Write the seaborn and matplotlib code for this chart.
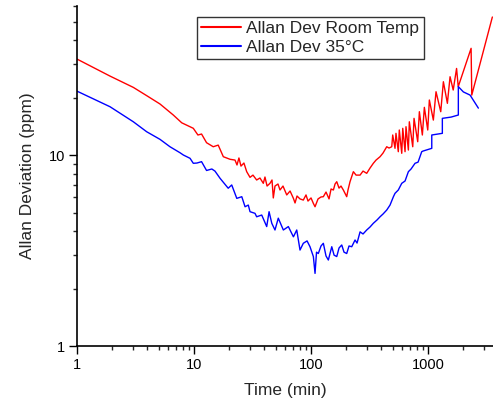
import numpy as np
import pandas as pd
import matplotlib
matplotlib.use("Agg")
import matplotlib.pyplot as plt
from matplotlib.ticker import LogLocator, NullFormatter, FuncFormatter
import seaborn as sns

# ---- data ----
room_label = "Allan Dev Room Temp"
warm_label = "Allan Dev 35°C"

room_t = [1, 1.915, 3.03, 3.97, 5.12, 6.65, 7.85, 9.86, 10.8, 11.6, 12.8, 14.6, 16.1,
          17.8, 20.3, 22.4, 23.3, 24.2, 25.2, 26.7, 28.2, 30.1, 31.9, 34.3, 36.6, 39.1, 40.4,
          42.1, 44.6, 46.4, 47.6, 49.2, 52.2, 54.3, 57.6, 62.0, 66.2, 70.7, 73.0, 75.9, 80.5,
          85.9, 90.6, 94.2, 100, 104.7, 108.2, 114.8, 121.7, 127.4, 134.3, 142.5, 148.3, 155.3,
          160.4, 165.9, 173.5, 180.4, 188.8, 201.8, 207.0, 215.4, 230.0, 242.6, 262.5, 278.2,
          299.2, 319.4, 340.7, 359.5, 389.0, 412.3, 443.4, 464.2,
          489.6, 499, 522, 532, 557, 568, 596, 608, 636, 648, 679, 692, 740, 759, 816, 843,
          894, 930, 994, 1026, 1110, 1170, 1284, 1352, 1463, 1542, 1641, 1753, 1811, 2333,
          2364, 3545]
room_dev = [31.8, 25.9, 22.6, 20.4, 18.5, 16.2, 14.75, 13.8, 12.73, 12.88, 11.6, 11.05,
            11.27, 9.8, 9.5, 9.41, 8.87, 9.65, 8.75, 9.08, 8.18, 7.64, 7.85, 7.40, 7.58, 7.11,
            7.67, 6.88, 7.11, 7.40, 5.96, 6.88, 7.05, 6.56, 6.88, 6.18, 6.48, 5.93, 5.61, 6.10,
            5.89, 5.81, 6.18, 5.74, 5.96, 5.58, 5.36, 5.89, 6.03, 6.05, 6.40, 5.89, 6.64, 6.56,
            7.05, 7.25, 6.71, 6.88, 6.56, 6.05, 6.56, 7.25, 8.18, 7.85, 7.85, 8.24, 8.02, 8.55,
            9.05, 9.41, 9.80, 10.24, 11.05, 10.88,
            11.05, 12.73, 10.84, 12.99, 10.41, 13.52, 10.21, 13.80, 10.41, 14.07, 10.62, 14.93,
            11.05, 15.56, 11.74, 16.86, 12.73, 17.77, 13.52, 19.41, 15.24, 21.45, 16.86, 24.2,
            18.65, 25.7, 21.9, 28.4, 22.8, 36.2, 20.6, 52.8]

warm_t = [1, 1.915, 3.03, 3.94, 5.12, 6.23, 7.59, 8.11, 9.25, 9.86, 10.6, 11.6, 12.8, 14.2, 15.1,
          16.7, 19.6, 21.0, 23.2, 25.6, 27.3, 29.1, 30.1, 33.2, 34.3, 37.9, 41.8, 43.8, 46.2,
          49.2, 52.5, 58.0, 64.0, 70.7, 75.5, 80.5, 85.9, 92.5, 98.0, 104.7, 108.2, 111.4,
          115.4, 121.7, 127.4, 134.3, 140.6, 150.4, 157.4, 165.9, 173.5, 183.0, 191.4, 201.8,
          211.2, 222.8, 237.8, 247.3, 262.5, 278.2, 299.2, 319.4, 340.7, 366.4, 389.0, 412.3,
          443.4, 473.3, 505.8, 522, 557, 596, 636, 679, 716, 774, 822, 883, 906, 1076, 1076,
          1325, 1325, 1574, 1815, 1815, 2004, 2286, 2692]
warm_dev = [21.6, 17.9, 14.93, 13.24, 12.08, 11.05, 10.28, 10.0, 9.61, 9.05, 9.08, 9.23, 8.30, 8.45,
            8.24, 7.55, 6.70, 6.97, 5.93, 6.05, 5.36, 5.47, 5.05, 4.95, 4.75, 4.85, 4.22, 5.05,
            4.39, 4.05, 4.67, 4.05, 4.22, 3.73, 4.05, 3.18, 3.45, 3.55, 3.31, 2.94, 2.40, 3.10,
            3.05, 3.34, 3.45, 2.96, 2.82, 3.31, 2.99, 2.94, 3.26, 3.38, 3.10, 3.05, 3.34, 3.31,
            3.59, 3.46, 3.96, 3.86, 4.05, 4.20, 4.39, 4.57, 4.75, 4.91, 5.15, 5.47, 6.05, 6.30,
            6.56, 7.11, 7.31, 8.18, 8.45, 9.05, 9.18, 10.41, 10.49, 10.84, 12.73, 12.99, 15.56,
            15.8, 16.2, 22.8, 21.4, 20.6, 17.6]

x_ticks = [1, 10, 100, 1000]
y_ticks = [1, 10]

df = pd.concat([
    pd.DataFrame({"t": room_t, "dev": room_dev, "series": room_label}),
    pd.DataFrame({"t": warm_t, "dev": warm_dev, "series": warm_label}),
], ignore_index=True)

sns.set_style("ticks")
plt.rcParams["font.family"] = ["Liberation Sans", "DejaVu Sans"]

fig = plt.figure(figsize=(4.93, 3.99), dpi=100)
ax = fig.add_axes([77 / 493, 53 / 399, 416 / 493, 340 / 399])

sns.lineplot(data=df, x="t", y="dev", hue="series", palette={room_label: "#ff0000", warm_label: "#0000ff"},
             hue_order=[room_label, warm_label], sort=False, estimator=None, units="series",
             linewidth=1.0, ax=ax)

ax.set_xscale("log")
ax.set_yscale("log")
ax.set_xlim(1, 3590)
ax.set_ylim(1, 60.3)

ax.set_xticks(x_ticks)
ax.set_yticks(y_ticks)
ax.xaxis.set_minor_locator(LogLocator(base=10, subs=np.arange(2, 10)))
ax.yaxis.set_minor_locator(LogLocator(base=10, subs=np.arange(2, 10)))
ax.xaxis.set_minor_formatter(NullFormatter())
ax.yaxis.set_minor_formatter(NullFormatter())
fmt = FuncFormatter(lambda v, p: f"{v:g}")
ax.xaxis.set_major_formatter(fmt)
ax.yaxis.set_major_formatter(fmt)
ax.set_xlim(1, 3590)
ax.set_ylim(1, 60.3)

ax.tick_params(axis="both", which="major", length=5.5, width=1.0, labelsize=10.5, colors="black", direction="out", pad=3)
ax.tick_params(axis="both", which="minor", length=3, width=1.0, direction="out")
for s in ["top", "right"]:
    ax.spines[s].set_visible(False)
for s in ["left", "bottom"]:
    ax.spines[s].set_linewidth(1.2)
    ax.spines[s].set_color("black")

ax.set_xlabel("Time (min)", fontsize=12.5, labelpad=8)
ax.set_ylabel("Allan Deviation (ppm)", fontsize=12.5, labelpad=10)

leg = ax.legend(loc="upper left", bbox_to_anchor=((197 - 77) / 416, 1 - (17 - 6) / 340),
                borderaxespad=0, frameon=True, fancybox=False, fontsize=12.5,
                handlelength=2.3, handletextpad=0.3, borderpad=0.25, labelspacing=0.2)
leg.get_frame().set_edgecolor("black")
leg.get_frame().set_linewidth(1.0)
for line in leg.get_lines():
    line.set_linewidth(1.5)

fig.savefig("out.png", dpi=100)
